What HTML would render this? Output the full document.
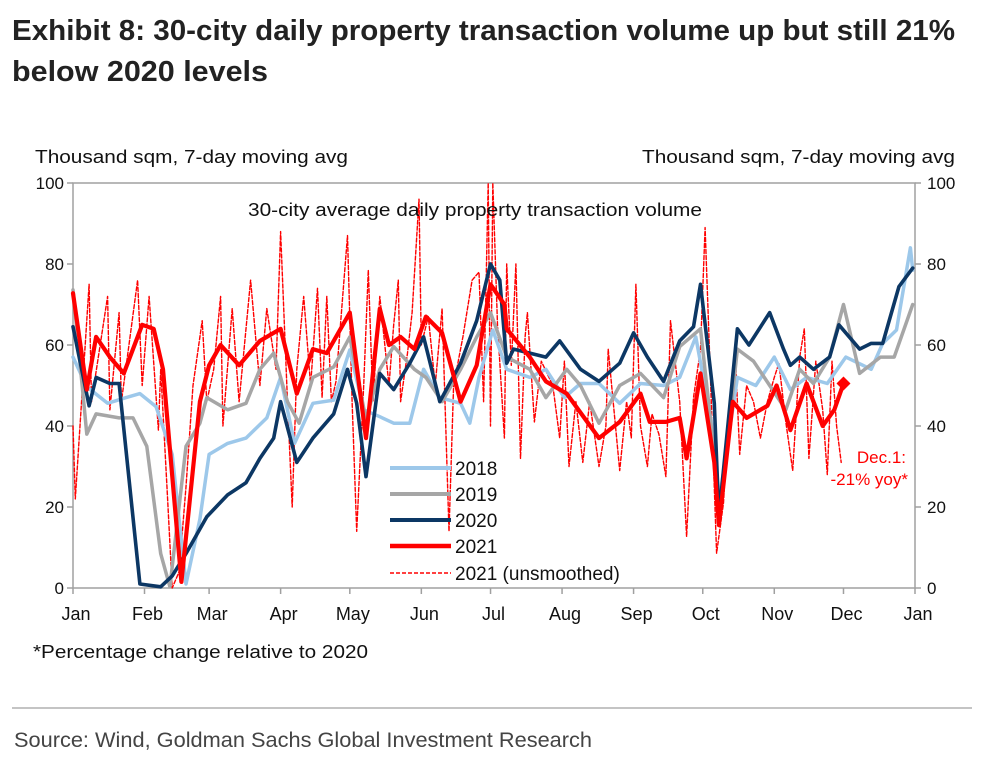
<!DOCTYPE html>
<html><head><meta charset="utf-8"><style>
body{margin:0;background:#fff;width:989px;height:766px;overflow:hidden}
svg{display:block;font-family:"Liberation Sans",sans-serif}
</style></head><body>
<svg id="chart" width="989" height="766">
<text x="12" y="40" font-size="29" font-weight="bold" fill="#222" textLength="943" lengthAdjust="spacingAndGlyphs">Exhibit 8: 30-city daily property transaction volume up but still 21%</text>
<text x="12" y="81" font-size="29" font-weight="bold" fill="#222" textLength="256" lengthAdjust="spacingAndGlyphs">below 2020 levels</text>
<text x="35" y="163" font-size="18" fill="#111" textLength="313" lengthAdjust="spacingAndGlyphs">Thousand sqm, 7-day moving avg</text>
<text x="642" y="163" font-size="18" fill="#111" textLength="313" lengthAdjust="spacingAndGlyphs">Thousand sqm, 7-day moving avg</text>
<g id="axes"></g>
<g id="series"></g>
<text x="248" y="216" font-size="18" fill="#111" textLength="454" lengthAdjust="spacingAndGlyphs">30-city average daily property transaction volume</text>
<g id="legend"></g>
<text x="906" y="463" font-size="17" fill="#f00" text-anchor="end">Dec.1:</text>
<text x="908" y="485" font-size="17" fill="#f00" text-anchor="end">-21% yoy*</text>
<text x="33" y="658" font-size="18" fill="#111" textLength="335" lengthAdjust="spacingAndGlyphs">*Percentage change relative to 2020</text>
<line x1="12" y1="708" x2="972" y2="708" stroke="#888" stroke-width="1"/>
<text x="14" y="747" font-size="21" fill="#444" textLength="578" lengthAdjust="spacingAndGlyphs">Source: Wind, Goldman Sachs Global Investment Research</text>
</svg>
<script>
const yTicks=[0,20,40,60,80,100];
const months=["Jan","Feb","Mar","Apr","May","Jun","Jul","Aug","Sep","Oct","Nov","Dec","Jan"];
const monthDays=[0,31,59,90,120,151,181,212,243,273,304,334,365];
const d2018=[0,6,15,23,29,36,43,49,55,59,67,75,84,90,96,104,113,120,126,133,139,146,152,159,168,172,176,182,188,198,205,213,220,228,237,246,256,263,270,278,280,288,296,304,311,318,327,335,346,351,357,363,364];
const v2018=[57,49.7,45.6,47,48,44.8,33,1,17,33,35.7,37,42,52,35.7,45.6,46.4,58.8,44,42.3,40.7,40.7,54,47,45.6,40.7,52,63.7,54,52,54,47,50.5,50.5,45.6,50.5,50,52,62,37,21,52,50,57,49,52,50.5,57,54,60.4,63.7,84,78.5];
const d2019=[0,6,10,20,26,32,38,42,49,55,58,67,75,81,87,93,98,104,113,120,127,133,139,148,153,160,168,175,181,188,198,205,214,220,228,237,246,256,263,272,278,280,288,295,302,309,315,321,328,334,341,350,356,364];
const v2019=[73.6,38,43,42,42,35,8.5,0.3,35,40.7,47,44,45.6,54,58,46,40.7,52,54.6,62,41.5,54,59.6,54,52,46,54,62,68,57,54,47,54,50,40.7,50,53,47,59.6,64,33,17,59,56,50,44,54,50.5,57,70,53,57,57,70];
const d2020=[0,7,10,16,20,29,38,43,49,58,67,75,81,87,90,97,104,113,119,123,127,133,139,146,152,159,168,175,181,185,188,191,198,205,211,220,228,237,243,249,256,263,269,272,278,280,288,293,302,308,311,315,321,328,332,341,346,351,358,364];
const v2020=[64.5,45,52,50.5,50.5,1,0.3,3,8.5,17.6,23,26,32,37,46,31,37,43,54,45.6,27.5,53,49,55.5,62,46,55.5,66,80,76,55.5,59,58,57,61,54,51,55.5,63,57,51,61,64.5,75,45.6,17.6,64,60,68,59,55,57,54,57,65,59,60.4,60.4,74.4,79];
const d2021=[0,6,10,16,22,30,35,39,47,55,59,64,72,81,90,97,104,110,120,127,133,137,142,148,153,160,168,175,181,187,188,198,205,214,228,237,246,250,257,263,266,272,278,280,286,292,301,305,311,318,325,330,334];
const v2021=[72.8,49,62,57,53,65,64,54,1.5,46,55,60,55,61,64,48,59,58,68,37,69,60,62,59,67,63,46,55,75,70,64,57,51,48,37,41,48,41,41,42,32,53,31,15.5,46,42,45,50,39,50.5,40,44,50.5];
const dRaw=[0,1,7,8,15,16,20,21,28,30,33,37,38,41,43,46,49,52,56,58,61,64,65,69,72,77,81,84,88,90,93,95,97,100,103,106,108,110,112,114,119,121,123,126,128,130,133,137,139,141,142,145,147,150,151,154,157,160,163,165,169,173,176,178,180,181,182,184,187,188,190,192,194,196,197,200,203,208,211,213,215,218,221,224,228,231,232,237,240,242,244,246,249,251,254,257,259,263,266,269,272,274,277,279,282,284,287,289,292,295,298,301,304,306,309,312,315,317,319,322,325,327,329,331,333];
const vRaw=[40,22,75,46,72,44,68,46,76,50,72,39,54,22,0,4,25,50,66,46,54,72,40,69,46,76,50,69,54,88,46,20,54,72,50,74,47,72,46,51,87,46,14,50,78.5,46,72,50,65,76,46,58,68,96,60,67,50,69,14,50,62,76,78,46,100,40,100,65,37,80,55,80,32,62,68,41,56,50,37,56,30,46,31,46,30,40,59,29,46,37,75,40,30,43,38,27.5,66,46,12.7,47,59,89,41,8.6,21,41,59,33,50,46,37,46,52,55.5,41,29,57,64,32,56,44,28,56,40,31,60];

const X0=73,X1=915,Y0=588,Y1=183;
const xs=d=>X0+(X1-X0)*d/365;
const ys=v=>Y0-(Y0-Y1)*v/100;
const NS="http://www.w3.org/2000/svg";
function mk(tag,attrs,parent){const e=document.createElementNS(NS,tag);for(const k in attrs)e.setAttribute(k,attrs[k]);parent.appendChild(e);return e;}
const axes=document.getElementById("axes");
const frame=mk("rect",{x:X0,y:Y1,width:X1-X0,height:Y0-Y1,fill:"none",stroke:"#a0a0a0","stroke-width":1.5},axes);


yTicks.forEach(t=>{
  const tl=mk("line",{x1:X0-6,x2:X0,y1:ys(t),y2:ys(t),stroke:"#a0a0a0","stroke-width":1.5},axes);
  
  
  const tr=mk("line",{x1:X1,x2:X1+6,y1:ys(t),y2:ys(t),stroke:"#a0a0a0","stroke-width":1.5},axes);
  
  
  const l=mk("text",{x:X0-9,y:ys(t)+6,"font-size":17,"text-anchor":"end",fill:"#111"},axes);l.textContent=t;
  
  
  const r=mk("text",{x:X1+12,y:ys(t)+6,"font-size":17,fill:"#111"},axes);r.textContent=t;
  
  
});
months.forEach((m,i)=>{
  const x=xs(monthDays[i]);
  const tk=mk("line",{x1:x,x2:x,y1:Y0,y2:Y0+6,stroke:"#a0a0a0","stroke-width":1.5},axes);
  
  
  const l=mk("text",{x:x+3,y:Y0+32,"font-size":18,"text-anchor":"middle",fill:"#111"},axes);l.textContent=m;
  
  
});
const ser=document.getElementById("series");
function line(ds,vs,color,w,dash,name){
  const pts=ds.map((d,i)=>xs(d).toFixed(1)+","+ys(vs[i]).toFixed(1)).join(" ");
  const p=mk("polyline",{points:pts,fill:"none",stroke:color,"stroke-width":w,"stroke-linejoin":"round","stroke-linecap":"round"},ser);
  if(dash)p.setAttribute("stroke-dasharray",dash);
  
  
}
line(dRaw,vRaw,"#ff0000",1.4,"4,2","line-2021-unsmoothed");
line(d2018,v2018,"#9dc8ea",3.5,null,"line-2018");
line(d2019,v2019,"#a6a6a6",3.5,null,"line-2019");
line(d2020,v2020,"#0c3764",3.6,null,"line-2020");
line(d2021,v2021,"#ff0000",4.2,null,"line-2021");
const lx=xs(d2021[d2021.length-1]),ly=ys(v2021[v2021.length-1]);
const dm=mk("polygon",{points:`${lx+7},${ly} ${lx},${ly-7} ${lx-7},${ly} ${lx},${ly+7}`,fill:"#ff0000"},ser);


const leg=document.getElementById("legend");
const items=[["2018","#9dc8ea",4,null],["2019","#a6a6a6",4,null],["2020","#0c3764",4,null],["2021","#ff0000",4.5,null],["2021 (unsmoothed)","#ff0000",1.4,"4,2"]];
const lys=[468,494,520,546,573];
items.forEach((it,i)=>{
  const l=mk("line",{x1:390,x2:451,y1:lys[i],y2:lys[i],stroke:it[1],"stroke-width":it[2]},leg);
  if(it[3])l.setAttribute("stroke-dasharray",it[3]);
  
  
  const t=mk("text",{x:455,y:lys[i]+7,"font-size":19,fill:"#111"},leg);t.textContent=it[0];
  
  
});
</script>
</body></html>
